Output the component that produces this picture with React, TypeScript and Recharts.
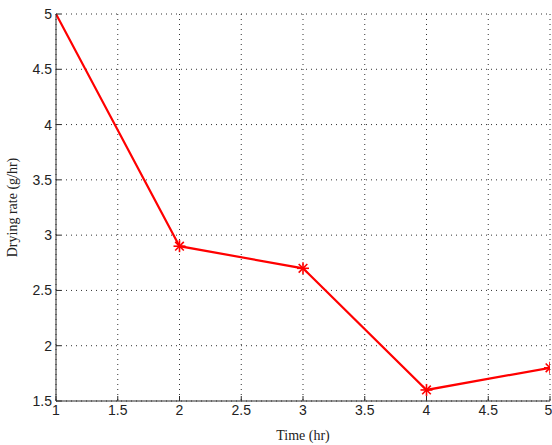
import React from 'react';
import { LineChart, Line, XAxis, YAxis, CartesianGrid } from 'recharts';

// Drying curve values
const timeHr = [1, 2, 3, 4, 5];
const dryingRate = [5, 2.9, 2.7, 1.6, 1.8];

const xTicks = [1, 1.5, 2, 2.5, 3, 3.5, 4, 4.5, 5];
const yTicks = [1.5, 2, 2.5, 3, 3.5, 4, 4.5, 5];

const data = timeHr.map((t, i) => ({ t, rate: dryingRate[i] }));

const SERIF = '"Liberation Serif", "DejaVu Serif", serif';
const SANS = '"Liberation Sans", Arial, sans-serif';
const AXIS = '#2a2a2a';
const RED = '#ff0000';

// MATLAB-like '*' marker, first point drawn without it
const StarDot = (props: any) => {
  const { cx, cy, index } = props;
  if (index === 0 || cx == null || cy == null) return <g key={`d-${index}`} />;
  const r = 6;
  const d = r * 0.72;
  return (
    <g key={`d-${index}`} stroke={RED} strokeWidth={1.6}>
      <line x1={cx - r} y1={cy} x2={cx + r} y2={cy} />
      <line x1={cx} y1={cy - r} x2={cx} y2={cy + r} />
      <line x1={cx - d} y1={cy - d} x2={cx + d} y2={cy + d} />
      <line x1={cx - d} y1={cy + d} x2={cx + d} y2={cy - d} />
    </g>
  );
};

const tickStyle = { fontSize: 14, fill: '#222', fontFamily: SANS };
const labelStyle = { fontSize: 14, fill: '#222', fontFamily: SERIF };
const blank = () => '';

export default function App() {
  return (
    <div style={{ position: 'absolute', left: 0, top: 0, width: 552, height: 445, background: '#fff' }}>
      <LineChart width={552} height={445} data={data} margin={{ top: 14, right: 2, bottom: 0, left: 0 }}>
        <CartesianGrid stroke="#333" strokeDasharray="1 4" />
        <XAxis
          dataKey="t"
          type="number"
          domain={[1, 5]}
          ticks={xTicks}
          height={44}
          allowDataOverflow
          stroke={AXIS}
          tickSize={-5}
          tickMargin={9}
          tick={tickStyle}
          label={{ value: 'Time (hr)', position: 'insideBottom', offset: 5, style: labelStyle }}
        />
        <XAxis
          xAxisId="top"
          orientation="top"
          dataKey="t"
          type="number"
          domain={[1, 5]}
          ticks={xTicks}
          height={0}
          stroke={AXIS}
          tickSize={-5}
          tickFormatter={blank}
        />
        <YAxis
          type="number"
          domain={[1.5, 5]}
          ticks={yTicks}
          width={56}
          allowDataOverflow
          stroke={AXIS}
          tickSize={-5}
          tickMargin={9}
          tick={tickStyle}
          label={{ value: 'Drying rate (g/hr)', angle: -90, position: 'insideLeft', offset: 12, style: { ...labelStyle, textAnchor: 'middle' } }}
        />
        <YAxis
          yAxisId="right"
          orientation="right"
          type="number"
          domain={[1.5, 5]}
          ticks={yTicks}
          width={0}
          stroke={AXIS}
          tickSize={-5}
          tickFormatter={blank}
        />
        <Line
          dataKey="rate"
          type="linear"
          stroke={RED}
          strokeWidth={2.2}
          dot={StarDot}
          activeDot={false}
          isAnimationActive={false}
        />
      </LineChart>
    </div>
  );
}
